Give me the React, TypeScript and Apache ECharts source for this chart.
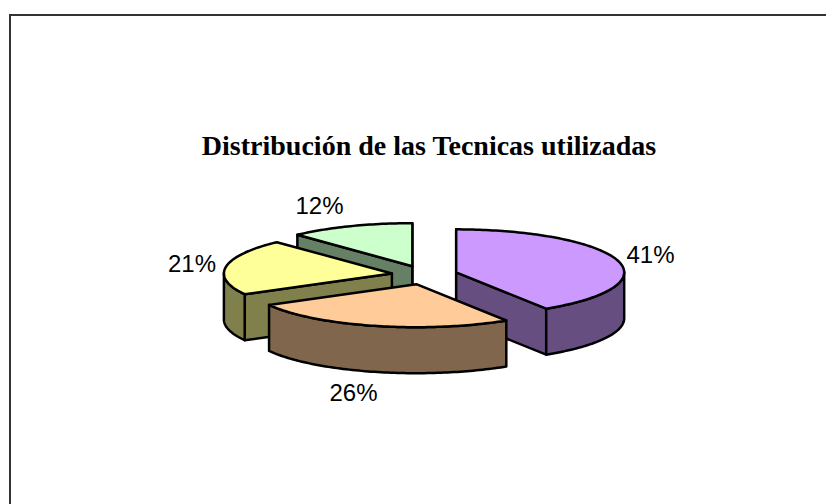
import React, { useEffect, useRef } from "react";
import * as echarts from "echarts";

const categories = ["A", "B", "C", "D"];
const values = [41, 26, 21, 12];
const labels = ["41%", "26%", "21%", "12%"];
const topColors = ["#CC99FF", "#FFCC99", "#FFFF99", "#CCFFCC"];
const sideColors = ["#664F80", "#80664D", "#80804D", "#668066"];
const drawOrder = [3, 2, 0, 1];
const labelNudge: [number, number][] = [[33, -6], [-21, 21], [-34, -3], [-31, -21]];

const CX = 424.5, CY = 275, RX = 168, RY = 43, DEPTH = 46, EX = 33, EY = 9.5;
const TOTAL = values.reduce((a, b) => a + b, 0);

const f = (n: number) => n.toFixed(2);

function arcPoints(cx: number, cy: number, a0: number, a1: number) {
  const pts: [number, number][] = [];
  const n = Math.max(2, Math.ceil(Math.abs(a1 - a0) / 0.02));
  for (let i = 0; i <= n; i++) {
    const a = a0 + ((a1 - a0) * i) / n;
    pts.push([cx + RX * Math.sin(a), cy - RY * Math.cos(a)]);
  }
  return pts;
}
const poly = (pts: [number, number][]) =>
  pts.map((p, i) => (i ? "L" : "M") + f(p[0]) + " " + f(p[1])).join("") + "Z";

export default function App() {
  const ref = useRef<HTMLDivElement>(null);
  useEffect(() => {
    const chart = echarts.init(ref.current!, null, { renderer: "svg" });
    chart.setOption({
      animation: false,
      backgroundColor: "#fff",
      title: {
        text: "Distribución de las Tecnicas utilizadas",
        left: 424,
        top: 126,
        textAlign: "center",
        textStyle: { fontFamily: "'Liberation Serif'", fontWeight: "bold", fontSize: 28, color: "#000" },
      },
      graphic: [
        {
          type: "polyline",
          shape: { points: [[10, 504], [10, 15], [826, 15]] },
          style: { stroke: "#333", lineWidth: 2, fill: "none" },
        },
      ],
      series: [
        {
          type: "custom",
          coordinateSystem: "none",
          data: drawOrder.map((i) => ({ name: categories[i], value: [values[i], i] })),
          renderItem: (_: any, api: any) => {
            const i = api.value(1) as number;
            const startShare = values.slice(0, i).reduce((a, b) => a + b, 0) / TOTAL;
            const a0 = startShare * Math.PI * 2;
            const a1 = a0 + ((api.value(0) as number) / TOTAL) * Math.PI * 2;
            const mid = (a0 + a1) / 2;
            const ax = CX + EX * Math.sin(mid);
            const ay = CY - EY * Math.cos(mid);
            const arc = arcPoints(ax, ay, a0, a1);
            const down = (p: [number, number]): [number, number] => [p[0], p[1] + DEPTH];
            const first = arc[0];
            const last = arc[arc.length - 1];
            const apex: [number, number] = [ax, ay];
            const wall = (pts: [number, number][]) => ({
              type: "path",
              shape: { pathData: poly(pts) },
              style: { fill: sideColors[i], stroke: "#000", lineWidth: 2.5, lineJoin: "round" },
            });
            const children: any[] = [];
            if (Math.sin(a0) <= 1e-6) children.push(wall([apex, first, down(first), down(apex)]));
            if (Math.sin(a1) >= -1e-6) children.push(wall([apex, last, down(last), down(apex)]));
            const v0 = Math.max(a0, Math.PI / 2);
            const v1 = Math.min(a1, (Math.PI * 3) / 2);
            if (v1 > v0) {
              const front = arcPoints(ax, ay, v0, v1);
              children.push(wall([...front, ...front.map(down).reverse()]));
            }
            children.push({
              type: "path",
              shape: { pathData: poly([apex, ...arc]) },
              style: { fill: topColors[i], stroke: "#000", lineWidth: 2.5, lineJoin: "round" },
            });
            const lx = ax + RX * Math.sin(mid) + labelNudge[i][0];
            const ly = ay - RY * Math.cos(mid) + (Math.cos(mid) < -0.5 ? DEPTH : 0) + labelNudge[i][1];
            children.push({
              type: "text",
              style: {
                x: lx,
                y: ly,
                text: labels[i],
                fill: "#000",
                font: "24px 'Liberation Sans'",
                textAlign: "center",
                textVerticalAlign: "middle",
              },
            });
            return { type: "group", children };
          },
        },
      ],
    });
    return () => chart.dispose();
  }, []);
  return <div ref={ref} style={{ position: "fixed", left: 0, top: 0, width: 826, height: 504 }} />;
}
